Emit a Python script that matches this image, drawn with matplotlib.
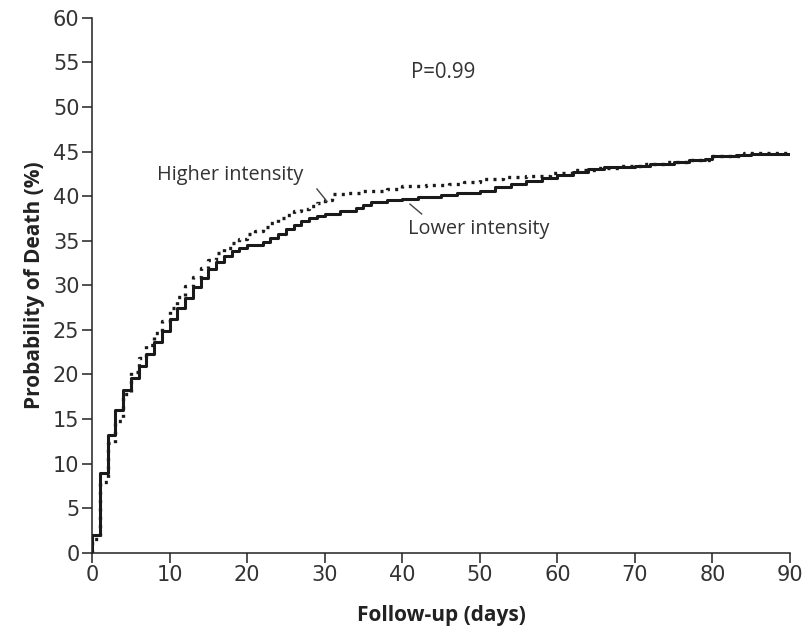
""" Kaplan-Meier style cumulative mortality, higher vs lower intensity """
import matplotlib.pyplot as plt

# Lower intensity (solid) - step curve
days_lo = [0, 1, 2, 3, 4, 5, 6, 7, 8, 9, 10, 11, 12, 13, 14, 15, 16, 17, 18, 19,
           20, 22, 23, 24, 25, 26, 27, 28, 29, 30, 32, 34, 35, 36, 38, 40, 42, 45,
           47, 50, 52, 54, 56, 58, 60, 62, 64, 66, 70, 72, 75, 77, 79, 80, 83, 85, 90]
death_lo = [2.0, 9.0, 13.2, 16.0, 18.3, 19.6, 21.0, 22.3, 23.6, 24.9, 26.2, 27.4,
            28.6, 29.8, 30.8, 31.8, 32.6, 33.3, 33.8, 34.2, 34.5, 34.9, 35.3, 35.8,
            36.3, 36.8, 37.2, 37.5, 37.8, 38.0, 38.3, 38.7, 39.0, 39.3, 39.6, 39.7,
            39.9, 40.1, 40.4, 40.6, 41.0, 41.4, 41.7, 42.0, 42.4, 42.7, 43.0, 43.3,
            43.4, 43.6, 43.8, 44.0, 44.2, 44.5, 44.6, 44.7, 44.7]

# Higher intensity (dotted)
days_hi = [0, 1, 2, 3, 4, 5, 6, 7, 8, 9, 10, 11, 12, 13, 14, 15, 16, 17, 18, 19,
           20, 21, 22, 23, 24, 25, 26, 27, 28, 29, 30, 31, 33, 35, 38, 40, 43, 46,
           48, 50, 53, 56, 59, 62, 65, 68, 71, 74, 77, 80, 84, 90]
death_hi = [1.5, 8.0, 12.3, 14.8, 17.8, 20.3, 21.8, 23.3, 24.7, 26.0, 27.4, 28.7,
            29.9, 30.9, 31.9, 32.8, 33.6, 34.2, 34.7, 35.2, 35.7, 36.1, 36.5, 37.0,
            37.5, 37.9, 38.3, 38.6, 38.9, 39.2, 39.6, 40.2, 40.4, 40.6, 40.8, 41.1,
            41.2, 41.4, 41.6, 41.9, 42.1, 42.3, 42.6, 42.9, 43.2, 43.4, 43.6, 43.8,
            44.1, 44.5, 44.8, 44.8]

x_ticks = [0, 10, 20, 30, 40, 50, 60, 70, 80, 90]
y_ticks = [0, 5, 10, 15, 20, 25, 30, 35, 40, 45, 50, 55, 60]

tick_font = ['Liberation Sans Narrow', 'DejaVu Sans']
text_font = ['Open Sans', 'DejaVu Sans']

fig = plt.figure(figsize=(8.07, 6.34), dpi=100)
ax = fig.add_axes([0.114, 0.128, 0.865, 0.844])

ax.step([0] + days_lo, [0] + death_lo, where='post', color='#1a1a1a', lw=2.2)
ax.step([0] + days_hi, [0] + death_hi, where='post', color='#1a1a1a', lw=2.4,
        linestyle=(0, (0.9, 1.6)))

ax.set_xlim(0, 90)
ax.set_ylim(0, 60)
ax.set_xticks(x_ticks)
ax.set_yticks(y_ticks)
ax.spines['top'].set_visible(False)
ax.spines['right'].set_visible(False)
for s in ('left', 'bottom'):
    ax.spines[s].set_linewidth(1.1)
    ax.spines[s].set_color('#222222')
ax.tick_params(length=7, width=1.1, color='#222222', labelsize=15, pad=2,
               labelcolor='#333333')
for lbl in ax.get_xticklabels() + ax.get_yticklabels():
    lbl.set_family(tick_font)

ax.set_xlabel('Follow-up (days)', fontsize=15, fontweight='bold',
              family=text_font, color='#222222', labelpad=14)
ax.set_ylabel('Probability of Death (%)', fontsize=15, fontweight='bold',
              family=text_font, color='#222222', labelpad=6)

# annotations
ax.text(17.8, 42.4, 'Higher intensity', ha='center', va='center', fontsize=14.3,
        family=text_font, color='#333333')
ax.plot([29.0, 30.3], [40.8, 39.4], color='#444444', lw=1)
ax.text(40.8, 36.3, 'Lower intensity', ha='left', va='center', fontsize=14.3,
        family=text_font, color='#333333')
ax.plot([41.0, 42.5], [39.1, 38.0], color='#444444', lw=1)
ax.text(45.3, 53.9, 'P=0.99', ha='center', va='center', fontsize=14.8,
        family=text_font, color='#333333')

fig.savefig('out.png', dpi=100)
